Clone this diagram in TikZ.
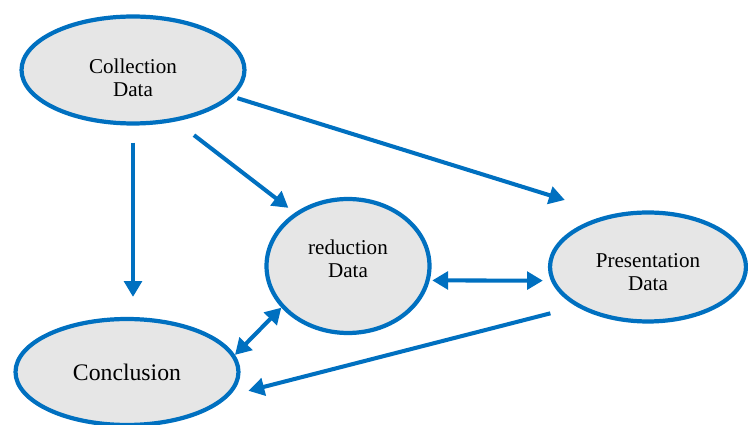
\documentclass[tikz,border=0pt]{standalone}
\usepackage{fontspec}
\setmainfont{Liberation Serif}
\usetikzlibrary{arrows.meta,shapes.geometric}
\definecolor{lineblue}{RGB}{0,112,192}
\definecolor{bubgray}{RGB}{230,230,230}
\begin{document}
\begin{tikzpicture}[x=0.02cm,y=-0.02cm,>={Triangle[length=9pt,width=10pt]},
bub/.style={ellipse,draw=lineblue,line width=2.4pt,fill=bubgray,inner sep=0pt},
txt/.style={align=center,font=\fontsize{12}{13}\selectfont},
con/.style={draw=lineblue,line width=2.3pt}]
\useasboundingbox(0,0)rectangle(748,425);
\node[bub,minimum width=4.46cm,minimum height=2.14cm,label={[txt,yshift=-0.15cm]center:Collection\\Data}](coll)at(133,70){};
\node[bub,minimum width=3.26cm,minimum height=2.68cm,label={[txt,yshift=0.15cm]center:reduction\\Data}](red)at(348,266){};
\node[bub,minimum width=3.92cm,minimum height=2.18cm,label={[txt,yshift=-0.11cm]center:Presentation\\Data}](pres)at(648,267){};
\node[bub,minimum width=4.46cm,minimum height=2.12cm,font=\fontsize{13.5}{15}\selectfont](concl)at(127,372){Conclusion};
\draw[con,->,shorten <=0.1cm,shorten >=0.97cm](coll.-15)--(pres.125);
\draw[con,->,shorten <=0.45cm,shorten >=0.16cm](coll.-50.5)--(red.135);
\draw[con,->,shorten <=0.34cm,shorten >=0.4cm](coll.south)--(coll.south|-concl.north);
\draw[con,<->,shorten <=0.05cm,shorten >=0.16cm](red.-10)--(pres.-172);
\draw[con,<->](concl.9)--(red.-148);
\draw[con,->,shorten <=0.54cm,shorten >=0.39cm](pres.-151.4)--(concl.-13.8);
\end{tikzpicture}
\end{document}
